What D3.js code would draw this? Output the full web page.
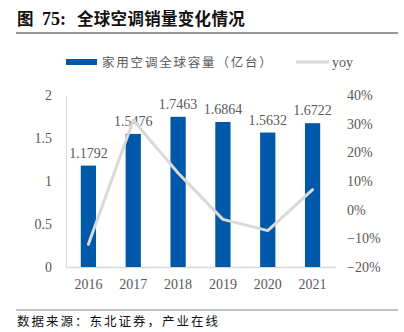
<!DOCTYPE html>
<html>
<head>
<meta charset="utf-8">
<script src="https://cdn.jsdelivr.net/npm/d3@7"></script>
<style>
  body { margin: 0; background: #fff; }
  svg { display: block; }
</style>
</head>
<body>
<div id="chart"></div>
<script>
// global AC sales (100 million units) and year-on-year change
var years = ["2016", "2017", "2018", "2019", "2020", "2021"];
var sales = [1.1792, 1.5476, 1.7463, 1.6864, 1.5632, 1.6722];
var yoy = [-0.121, 0.312, 0.128, -0.034, -0.073, 0.070];
var leftTicks = [0, 0.5, 1, 1.5, 2];
var rightTicks = [-0.2, -0.1, 0, 0.1, 0.2, 0.3, 0.4];

var W = 404, H = 332;
var margin = { left: 66, right: 69, top: 95, bottom: 65 };
var serif = "'Liberation Serif', 'Times New Roman', serif";
var cjk = "'Noto Sans CJK SC', sans-serif";
var barColor = "#0058A9", lineColor = "#D9D9D9", textColor = "#595959";

var svg = d3.select("#chart").append("svg")
  .attr("width", W).attr("height", H);

// title + rule
var title = svg.append("text")
  .attr("x", 17).attr("y", 25)
  .attr("font-family", cjk).attr("font-weight", "bold")
  .attr("font-size", 16.5).attr("fill", "#111");
title.append("tspan").text("图");
title.append("tspan").attr("x", 42).attr("font-family", serif).attr("font-size", 18).text("75:");
title.append("tspan").attr("x", 77).attr("letter-spacing", 0.3).text("全球空调销量变化情况");
svg.append("line")
  .attr("x1", 16).attr("x2", 398).attr("y1", 33).attr("y2", 33)
  .attr("stroke", "#333").attr("stroke-width", 1.2);

var x = d3.scaleBand()
  .domain(years)
  .range([margin.left, W - margin.right])
  .paddingInner(0.66).paddingOuter(0.33);

var yL = d3.scaleLinear().domain([0, 2]).range([H - margin.bottom, margin.top]);
var yR = d3.scaleLinear().domain([-0.2, 0.4]).range([H - margin.bottom, margin.top]);

// left axis
var axL = svg.append("g")
  .attr("transform", "translate(" + margin.left + ",0)")
  .call(d3.axisLeft(yL).tickValues(leftTicks).tickSize(0).tickPadding(14).tickFormat(d3.format("")));
axL.select(".domain").attr("stroke", lineColor);

// right axis
var axR = svg.append("g")
  .attr("transform", "translate(" + (W - margin.right) + ",0)")
  .call(d3.axisRight(yR).tickValues(rightTicks).tickSize(0).tickPadding(12).tickFormat(d3.format(".0%")));
axR.select(".domain").remove();

// bottom axis
var axB = svg.append("g")
  .attr("transform", "translate(0," + (H - margin.bottom) + ")")
  .call(d3.axisBottom(x).tickSize(0).tickPadding(12));
axB.select(".domain").attr("stroke", lineColor).attr("stroke-width", 1.5);

svg.selectAll(".tick text")
  .attr("font-family", serif).attr("font-size", 14).attr("fill", textColor);

// bars
svg.append("g").selectAll("rect")
  .data(sales).enter().append("rect")
  .attr("x", function(d, i) { return x(years[i]); })
  .attr("y", function(d) { return yL(d); })
  .attr("width", x.bandwidth())
  .attr("height", function(d) { return yL(0) - yL(d); })
  .attr("fill", barColor);

// value labels
svg.append("g").selectAll("text")
  .data(sales).enter().append("text")
  .attr("x", function(d, i) { return x(years[i]) + x.bandwidth() / 2; })
  .attr("y", function(d) { return yL(d) - 8; })
  .attr("text-anchor", "middle")
  .attr("font-family", serif).attr("font-size", 14).attr("fill", textColor)
  .text(function(d) { return d.toFixed(4); });

// yoy line
var line = d3.line()
  .x(function(d, i) { return x(years[i]) + x.bandwidth() / 2; })
  .y(function(d) { return yR(d); });
svg.append("path")
  .datum(yoy)
  .attr("d", line)
  .attr("fill", "none")
  .attr("stroke", lineColor).attr("stroke-width", 3)
  .attr("stroke-linecap", "round").attr("stroke-linejoin", "round");

// legend
var leg = svg.append("g");
leg.append("rect")
  .attr("x", 66).attr("y", 59).attr("width", 31).attr("height", 6)
  .attr("fill", barColor);
leg.append("text")
  .attr("x", 102).attr("y", 67)
  .attr("font-family", cjk).attr("font-size", 12.5).attr("letter-spacing", 1.8)
  .attr("fill", textColor)
  .text("家用空调全球容量（亿台）");
leg.append("line")
  .attr("x1", 296).attr("x2", 329).attr("y1", 62).attr("y2", 62)
  .attr("stroke", lineColor).attr("stroke-width", 3);
leg.append("text")
  .attr("x", 332).attr("y", 67)
  .attr("font-family", serif).attr("font-size", 14).attr("fill", textColor)
  .text("yoy");

// footer
svg.append("line")
  .attr("x1", 16).attr("x2", 398).attr("y1", 310).attr("y2", 310)
  .attr("stroke", "#888").attr("stroke-width", 1);
svg.append("text")
  .attr("x", 17).attr("y", 326)
  .attr("font-family", cjk).attr("font-size", 12.5).attr("letter-spacing", 2)
  .attr("fill", "#111")
  .text("数据来源：东北证券，产业在线");
</script>
</body>
</html>
